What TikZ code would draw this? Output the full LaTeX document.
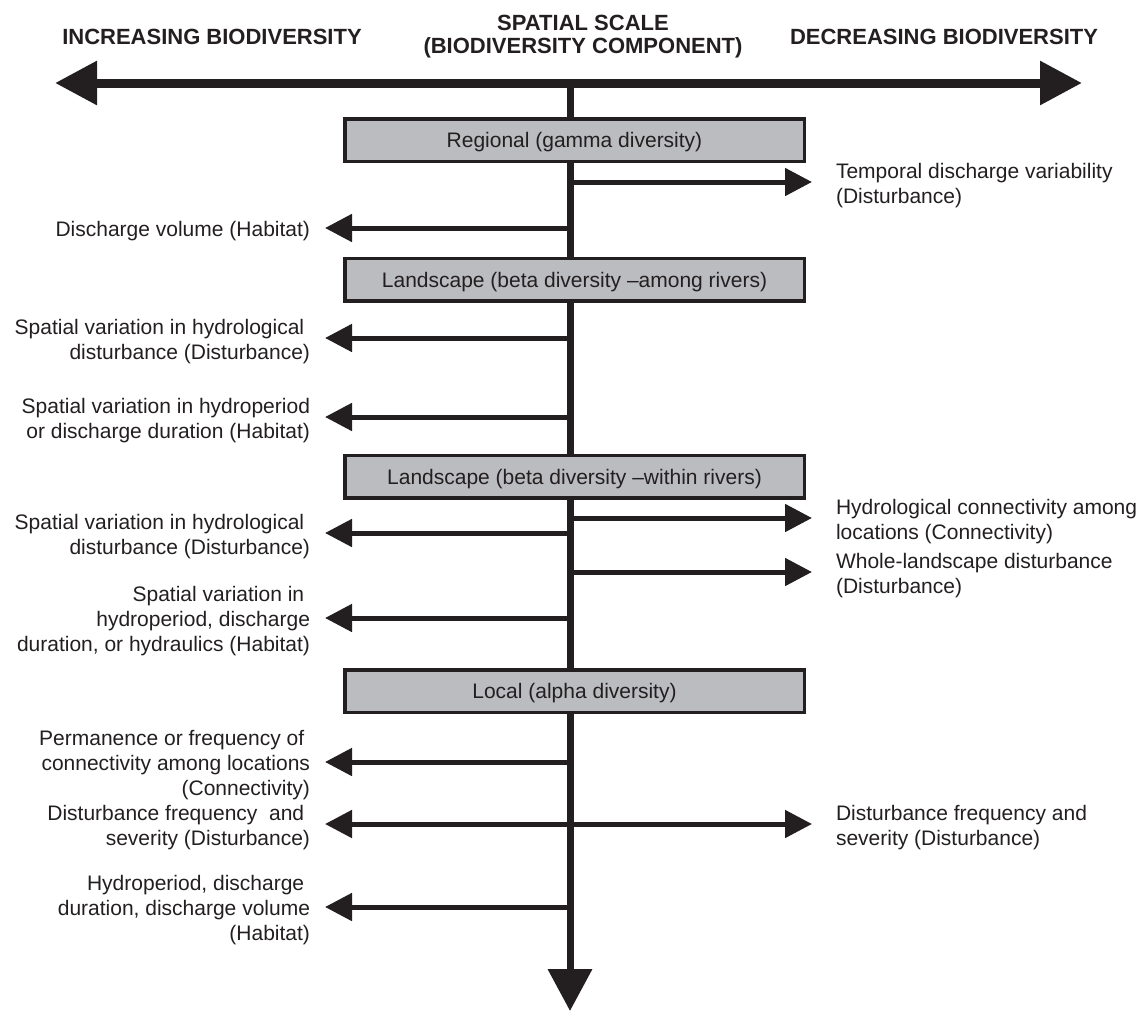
\documentclass[tikz,border=0pt]{standalone}
\usepackage{fontspec}
\setmainfont{Liberation Sans}
\usetikzlibrary{arrows.meta,calc}
\definecolor{ink}{RGB}{35,31,32}
\definecolor{boxfill}{RGB}{187,188,191}
\newcommand\tsp{\hspace*{5.8pt}}
\begin{document}
\begin{tikzpicture}[x=1pt,y=-1pt,
  every node/.style={inner sep=0pt, outer sep=0pt, text=ink},
  txt/.style={font=\fontsize{21}{25}\selectfont},
  ltxt/.style={txt, align=right, anchor=east},
  rtxt/.style={txt, align=left, anchor=west},
  head/.style={font=\fontsize{22}{23}\selectfont\bfseries},
  levelbox/.style={draw=ink, line width=3.5pt, fill=boxfill, minimum width=459.5pt, minimum height=42.5pt, txt, text height=15pt, text depth=0pt},
  axisline/.style={draw=ink, line width=9pt, {Triangle[length=42pt,width=42pt]}-{Triangle[length=42pt,width=42pt]}},
  stemline/.style={draw=ink, line width=7pt, -{Triangle[length=42pt,width=43pt]}},
  branch/.style={draw=ink, line width=5pt, -{Triangle[length=27pt,width=27pt]}},
  dbranch/.style={draw=ink, line width=5pt, {Triangle[length=27pt,width=27pt]}-{Triangle[length=27pt,width=27pt]}},
]
\useasboundingbox (0,0) rectangle (1143,1012);

% headers
\node[head, anchor=base] (inc) at (212,44) {INCREASING BIODIVERSITY};
\node[head, anchor=base west] (dec) at (790,44) {DECREASING BIODIVERSITY};
\node[head, align=center, anchor=north] (scale) at (583,15) {SPATIAL SCALE\\(BIODIVERSITY COMPONENT)};

% axes
\coordinate (axL) at (55,83);
\coordinate (axR) at (1082,83);
\coordinate (stemtop) at (570,83);
\coordinate (stembot) at (570,1011);
\draw[axisline] (axL) -- (axR);
\draw[stemline] (stemtop) -- (stembot);

% branch origins on the stem
\coordinate (s1) at (570,182);
\coordinate (s2) at (570,228);
\coordinate (s3) at (570,338);
\coordinate (s4) at (570,417);
\coordinate (s5) at (570,518);
\coordinate (s6) at (570,533);
\coordinate (s7) at (570,572);
\coordinate (s8) at (570,618);
\coordinate (s9) at (570,762);
\coordinate (s10) at (570,824);
\coordinate (s11) at (570,907);

% texts right
\node[rtxt] (r1) at (836,186) {Temporal discharge variability\\(Disturbance)};
\node[rtxt] (r5) at (836,522) {Hydrological connectivity among\\locations (Connectivity)};
\node[rtxt] (r7) at (836,576) {Whole-landscape disturbance\\(Disturbance)};
\node[rtxt] (r10) at (836,828) {Disturbance frequency and\\severity (Disturbance)};

% texts left
\node[ltxt] (l2) at (310,231) {Discharge volume (Habitat)};
\node[ltxt] (l3) at (310,342) {Spatial variation in hydrological\tsp\\disturbance (Disturbance)};
\node[ltxt] (l4) at (310,421) {Spatial variation in hydroperiod\\or discharge duration (Habitat)};
\node[ltxt] (l6) at (310,537) {Spatial variation in hydrological\tsp\\disturbance (Disturbance)};
\node[ltxt] (l8) at (310,621) {Spatial variation in\tsp\\hydroperiod, discharge\tsp\\duration, or hydraulics (Habitat)};
\node[ltxt] (l9) at (310,765) {Permanence or frequency of\tsp\\connectivity among locations\tsp\\(Connectivity)};
\node[ltxt] (l10) at (310,828) {Disturbance frequency\ \ and\tsp\\severity (Disturbance)};
\node[ltxt] (l11) at (310,910) {Hydroperiod, discharge\tsp\\duration, discharge volume\tsp\\(Habitat)};

% branches
\draw[branch] (s1) -- ($(r1.west |- s1)+(-24,0)$);
\draw[branch] (s2) -- ($(l2.east |- s2)+(15,0)$);
\draw[branch] (s3) -- ($(l3.east |- s3)+(15,0)$);
\draw[branch] (s4) -- ($(l4.east |- s4)+(15,0)$);
\draw[branch] (s5) -- ($(r5.west |- s5)+(-24,0)$);
\draw[branch] (s6) -- ($(l6.east |- s6)+(15,0)$);
\draw[branch] (s7) -- ($(r7.west |- s7)+(-24,0)$);
\draw[branch] (s8) -- ($(l8.east |- s8)+(15,0)$);
\draw[branch] (s9) -- ($(l9.east |- s9)+(15,0)$);
\draw[dbranch] ($(l10.east |- s10)+(15,0)$) -- ($(r10.west |- s10)+(-24,0)$);
\draw[branch] (s11) -- ($(l11.east |- s11)+(15,0)$);

% level boxes
\node[levelbox] (regional) at (574.5,140) {Regional (gamma diversity)};
\node[levelbox] (among) at (574.5,279.5) {Landscape (beta diversity –among rivers)};
\node[levelbox] (within) at (574.5,476.5) {Landscape (beta diversity –within rivers)};
\node[levelbox] (local) at (574.5,691) {Local (alpha diversity)};
\end{tikzpicture}
\end{document}
